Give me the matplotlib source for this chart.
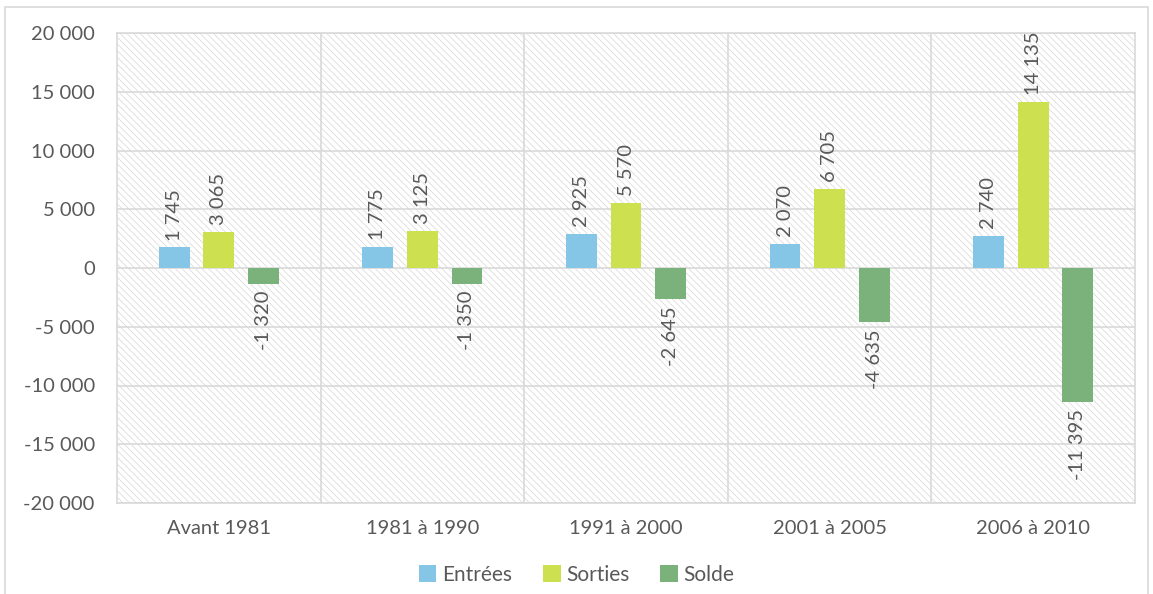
import matplotlib.pyplot as plt
import matplotlib.patches as mpatches
import numpy as np

# --- DATA ---
periods = ['Avant 1981', '1981 à 1990', '1991 à 2000', '2001 à 2005', '2006 à 2010']
entrees = [1745, 1775, 2925, 2070, 2740]
sorties = [3065, 3125, 5570, 6705, 14135]
solde = [-1320, -1350, -2645, -4635, -11395]
series_names = ['Entrées', 'Sorties', 'Solde']
colors = ['#85C6E6', '#CDE04F', '#7BB27B']

plt.rcParams['font.family'] = ['Lato', 'DejaVu Sans']
plt.rcParams['hatch.linewidth'] = 0.5
plt.rcParams['hatch.color'] = '#d6d6d6'
text_col = '#595959'
grid_col = '#d9d9d9'
fs = 14.5

fig = plt.figure(figsize=(11.53, 5.94), dpi=100)
ax = fig.add_axes([117 / 1153, 1 - 503 / 594, (1135 - 117) / 1153, (503 - 33) / 594])

# outer chart border
fig.patches.append(mpatches.Rectangle((5 / 1153, -0.01), 1143 / 1153, 1 - 7 / 594 + 0.01,
                                      transform=fig.transFigure, fill=False,
                                      edgecolor=grid_col, linewidth=1.2))

# hatched plot background
ax.add_patch(mpatches.Rectangle((0, 0), 1, 1, transform=ax.transAxes, facecolor='white',
                                hatch='\\\\\\\\\\', edgecolor='#d6d6d6', linewidth=0, zorder=0))

x = np.arange(len(periods))
width = 0.152
step = 0.219
for i, (vals, name, c) in enumerate(zip([entrees, sorties, solde], series_names, colors)):
    pos = x + (i - 1) * step
    ax.bar(pos, vals, width=width, color=c, label=name, zorder=3)
    for p, v in zip(pos, vals):
        lab = f'{v:,}'.replace(',', ' ')
        if v >= 0:
            ax.annotate(lab, (p, v), xytext=(0, 5), textcoords='offset points',
                        rotation=90, ha='center', va='bottom', fontsize=fs, color=text_col)
        else:
            ax.annotate(lab, (p, v), xytext=(0, -5), textcoords='offset points',
                        rotation=90, ha='center', va='top', fontsize=fs, color=text_col)

ax.set_xlim(-0.5, len(periods) - 0.5)
ax.set_ylim(-20000, 20000)
yt = np.arange(-20000, 20001, 5000)
ax.set_yticks(yt)
ax.set_yticklabels([f'{v:,}'.replace(',', ' ') for v in yt])
ax.set_xticks(x)
ax.set_xticklabels(periods)
ax.tick_params(length=0, labelsize=fs, labelcolor=text_col)
ax.tick_params(axis='y', pad=16)
ax.tick_params(axis='x', pad=12)

for yv in yt:
    ax.axhline(yv, color=grid_col, linewidth=1.2, zorder=1)
for xv in np.arange(0.5, len(periods) - 0.5, 1):
    ax.axvline(xv, color=grid_col, linewidth=1.2, zorder=1)
for s in ax.spines.values():
    s.set_color(grid_col)
    s.set_linewidth(1.2)

fig.legend(loc='center', bbox_to_anchor=(0.5, 1 - 575 / 594), ncol=3, frameon=False,
           fontsize=fs + 0.5, labelcolor=text_col, handlelength=0.85, handleheight=0.85,
           handletextpad=0.25, columnspacing=1.5)

plt.savefig('out.png', dpi=100)
